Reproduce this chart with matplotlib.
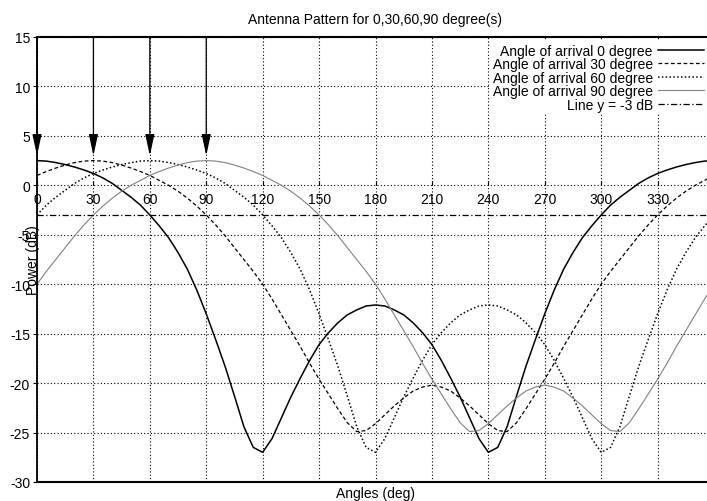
import numpy as np
import matplotlib.pyplot as plt

plt.rcParams['font.family'] = ['Liberation Sans', 'DejaVu Sans']
plt.rcParams['axes.unicode_minus'] = False

# ---- data (dB, every 5 degrees) ----
angles = list(range(0, 365, 5))

aoa_0 = [2.5, 2.45, 2.3, 2.1, 1.85, 1.55, 1.2, 0.75, 0.2, -0.5, -1.2, -2.0, -3.0,
         -4.1, -5.3, -6.8, -8.5, -10.6, -13.0, -15.6, -18.3, -21.3, -24.4, -26.5,
         -27.0, -25.6, -23.5, -21.4, -19.5, -17.7, -16.1, -14.9, -13.9, -13.1, -12.6,
         -12.2, -12.1,
         -12.2, -12.6, -13.1, -13.9, -14.9, -16.1, -17.7, -19.5, -21.4, -23.5, -25.6,
         -27.0, -26.5, -24.4, -21.3, -18.3, -15.6, -13.0, -10.6, -8.5, -6.8, -5.3,
         -4.1, -3.0, -2.0, -1.2, -0.5, 0.2, 0.75, 1.2, 1.55, 1.85, 2.1, 2.3, 2.45, 2.5]

aoa_30 = [1.0, 1.4, 1.75, 2.05, 2.3, 2.45, 2.5, 2.45, 2.3, 2.05, 1.75, 1.4, 1.0,
          0.5, 0.0, -0.6, -1.3, -2.1, -3.0, -4.0, -5.1, -6.3, -7.5, -8.7, -10.0,
          -11.5, -13.1, -14.7, -16.3, -18.0, -19.6, -21.1, -22.6, -24.0, -24.9, -24.8,
          -24.1, -23.2, -22.3, -21.5, -20.8, -20.4, -20.2, -20.4, -20.8, -21.5, -22.3,
          -23.2, -24.1, -24.8, -24.9, -24.0, -22.6, -21.1, -19.6, -18.0, -16.3, -14.7,
          -13.1, -11.5, -10.0, -8.7, -7.5, -6.3, -5.1, -4.0, -3.0, -2.1, -1.3, -0.6,
          0.0, 0.5, 1.0]

aoa_60 = [-3.0, -2.0, -1.2, -0.5, 0.2, 0.75, 1.2, 1.55, 1.85, 2.1, 2.3, 2.45, 2.5,
          2.45, 2.3, 2.1, 1.85, 1.55, 1.2, 0.75, 0.2, -0.5, -1.2, -2.0, -3.0,
          -4.1, -5.3, -6.8, -8.5, -10.6, -13.0, -15.6, -18.3, -21.3, -24.4, -26.5,
          -27.0, -25.6, -23.5, -21.4, -19.5, -17.7, -16.1, -14.9, -13.9, -13.1, -12.6,
          -12.2, -12.1, -12.2, -12.6, -13.1, -13.9, -14.9, -16.1, -17.7, -19.5, -21.4,
          -23.5, -25.6, -27.0, -26.5, -24.4, -21.3, -18.3, -15.6, -13.0, -10.6, -8.5,
          -6.8, -5.3, -4.1, -3.0]

aoa_90 = [-10.0, -8.7, -7.5, -6.3, -5.1, -4.0, -3.0, -2.1, -1.3, -0.6, 0.0, 0.5, 1.0,
          1.4, 1.75, 2.05, 2.3, 2.45, 2.5, 2.45, 2.3, 2.05, 1.75, 1.4, 1.0,
          0.5, 0.0, -0.6, -1.3, -2.1, -3.0, -4.0, -5.1, -6.3, -7.5, -8.7,
          -10.0, -11.5, -13.1, -14.7, -16.3, -18.0, -19.6, -21.1, -22.6, -24.0, -24.9,
          -24.8, -24.1, -23.2, -22.3, -21.5, -20.8, -20.4, -20.2, -20.4, -20.8, -21.5,
          -22.3, -23.2, -24.1, -24.8, -24.9, -24.0, -22.6, -21.1, -19.6, -18.0, -16.3,
          -14.7, -13.1, -11.5, -10.0]

arrow_angles = [0, 30, 60, 90]
x_ticks = list(range(0, 331, 30))
y_ticks = list(range(-30, 16, 5))
threshold_db = -3

# ---- figure ----
fig = plt.figure(figsize=(7.07, 5.02), dpi=100)
# axes run past the right edge, like the cropped scan
ax = fig.add_axes([37 / 707, 19 / 502, 677 / 707, 445 / 502])

ax.plot(angles, aoa_0, color='black', lw=1.1, label='Angle of arrival 0 degree')
ax.plot(angles, aoa_30, color='black', lw=0.9, ls=(0, (3, 2)),
        label='Angle of arrival 30 degree')
ax.plot(angles, aoa_60, color='black', lw=1.1, ls=(0, (1, 1.5)),
        label='Angle of arrival 60 degree')
ax.plot(angles, aoa_90, color='#808080', lw=0.8, label='Angle of arrival 90 degree')
ax.axhline(threshold_db, color='black', lw=0.9, ls=(0, (5, 2, 1, 2)),
           label='Line y = -3 dB')

for a in arrow_angles:
    ax.annotate('', xy=(a, 3), xytext=(a, 15), annotation_clip=False,
                arrowprops=dict(arrowstyle='-|>,head_length=1.3,head_width=0.28',
                                color='black', lw=0.9, mutation_scale=10,
                                shrinkA=0, shrinkB=0))

ax.set_xlim(0, 360)
ax.set_ylim(-30, 15)
ax.set_xticks(x_ticks)
ax.set_yticks(y_ticks)
ax.grid(True, color='black', lw=0.8, ls=(0, (1, 2)))

# x axis labels sit on the 0 dB line, box closed at -30
ax.spines['bottom'].set_position(('data', 0))
ax.spines['bottom'].set_visible(False)
ax.axhline(-30, color='black', lw=1.5, clip_on=False)
ax.spines['top'].set_linewidth(1.5)
ax.spines['left'].set_linewidth(1.3)
ax.tick_params(axis='x', direction='in', length=3, pad=5, labelsize=10)
ax.tick_params(axis='y', direction='out', length=3, pad=2, labelsize=10)

ax.set_title('Antenna Pattern for 0,30,60,90 degree(s)', fontsize=10, pad=10)
ax.set_ylabel('Power (dB)', fontsize=10)
ax.yaxis.set_label_coords(0.005, 0.5)
ax.text(0.5, -0.025, 'Angles (deg)', transform=ax.transAxes,
        ha='center', va='center', fontsize=10)

ax.legend(loc='upper right', bbox_to_anchor=(1.0, 1 - 42 / 502),
          bbox_transform=fig.transFigure, markerfirst=False, frameon=True,
          fancybox=False, edgecolor='none', facecolor='white', framealpha=1,
          fontsize=10, handlelength=3.3, handletextpad=0.4, labelspacing=-0.04,
          borderpad=0.2, borderaxespad=0)

fig.savefig('out.png', dpi=100)
